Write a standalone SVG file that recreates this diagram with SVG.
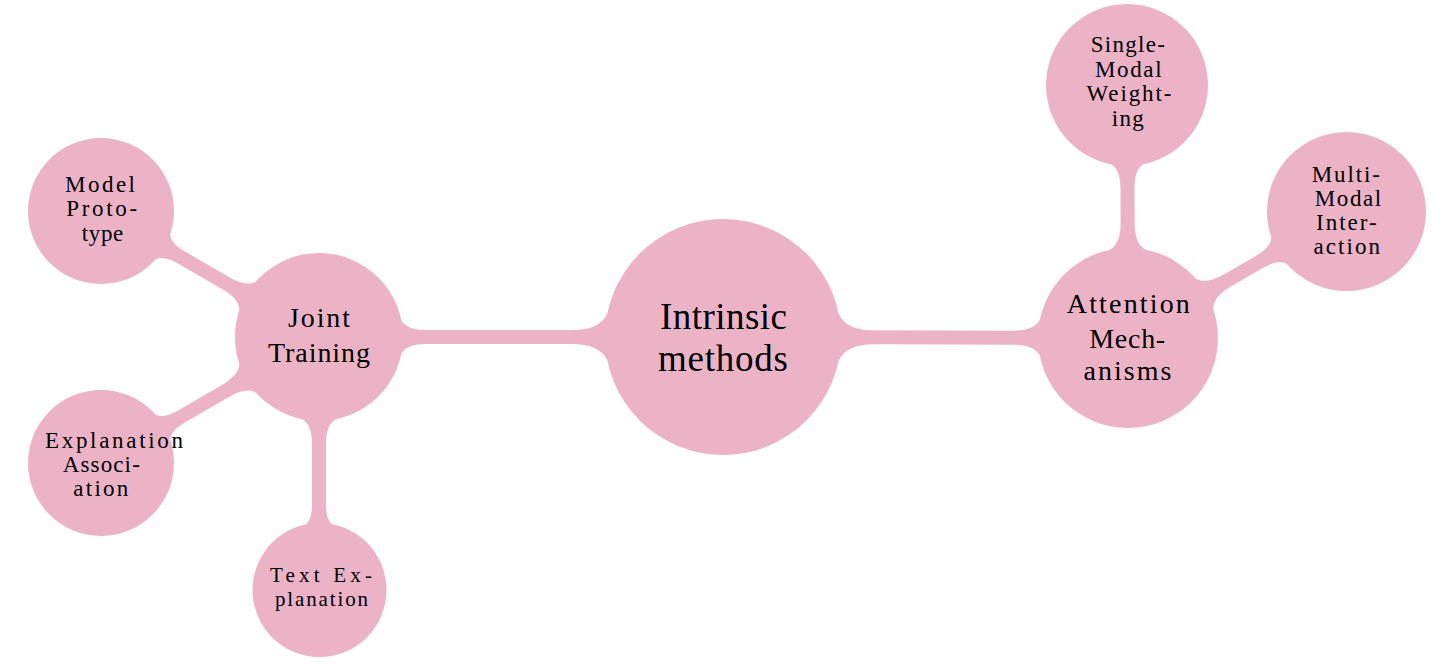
<svg xmlns="http://www.w3.org/2000/svg" width="1432" height="663" viewBox="0 0 1432 663">
<style>
.n{fill:#ECB3C7}
.bar{fill:#ECB3C7}
.t{font-family:"Liberation Serif","Times New Roman",serif;fill:#000;text-anchor:middle}
.s0{font-size:37px}
.s1{font-size:28px}
.s2{font-size:23px}
.s3{font-size:21px}
</style>
<rect width="1432" height="663" fill="#ffffff"/>
<g id="connectors">
<path class="bar" transform="translate(319,337)" d="M82.3,-16.8 C86.1,-9.94 94.9,-7 107.5,-7 L253,-7 C270.7,-7 283.05,-11.98 288.4,-23.6 L288.4,23.6 C283.05,11.98 270.7,7 253,7 L107.5,7 C94.9,7 86.1,9.94 82.3,16.8 Z"/>
<path class="bar" transform="translate(723,337) rotate(0.14)" d="M115.6,-23.6 C120.95,-11.98 133.3,-7 151,-7 L289.8,-7 C303.3,-7 312.75,-10.3 316.8,-18 L316.8,18 C312.75,10.3 303.3,7 289.8,7 L151,7 C133.3,7 120.95,11.98 115.6,23.6 Z"/>
<path class="bar" transform="translate(319,337) rotate(-150)" d="M82.3,-16.8 C86.1,-9.94 94.9,-7 107.5,-7 L158.4,-7 C169.3,-7 177,-9.28 180.3,-14.6 L180.3,14.6 C177,9.28 169.3,7 158.4,7 L107.5,7 C94.9,7 86.1,9.94 82.3,16.8 Z"/>
<path class="bar" transform="translate(319,337) rotate(150)" d="M82.3,-16.8 C86.1,-9.94 94.9,-7 107.5,-7 L158.4,-7 C169.3,-7 177,-9.28 180.3,-14.6 L180.3,14.6 C177,9.28 169.3,7 158.4,7 L107.5,7 C94.9,7 86.1,9.94 82.3,16.8 Z"/>
<path class="bar" transform="translate(319,337) rotate(90)" d="M82.3,-16.8 C86.1,-9.94 94.9,-7 107.5,-7 L167.2,-7 C177.3,-7 184.3,-8.92 187.3,-13.4 L187.3,13.4 C184.3,8.92 177.3,7 167.2,7 L107.5,7 C94.9,7 86.1,9.94 82.3,16.8 Z"/>
<path class="bar" transform="translate(1128,338) rotate(-90.2)" d="M88.2,-18 C92.25,-10.3 101.7,-7 115.2,-7 L149.3,-7 C161.5,-7 170,-9.76 173.6,-16.2 L173.6,16.2 C170,9.76 161.5,7 149.3,7 L115.2,7 C101.7,7 92.25,10.3 88.2,18 Z"/>
<path class="bar" transform="translate(1128,338) rotate(-30.07)" d="M88.2,-18 C92.25,-10.3 101.7,-7 115.2,-7 L151.2,-7 C163,-7 171.3,-9.64 174.9,-15.8 L174.9,15.8 C171.3,9.64 163,7 151.2,7 L115.2,7 C101.7,7 92.25,10.3 88.2,18 Z"/>
</g>
<g id="intrinsic">
<circle class="n" cx="723" cy="337" r="118"/>
<text class="t s0" x="723.5" y="329" textLength="127" lengthAdjust="spacing">Intrinsic</text>
<text class="t s0" x="723" y="371" textLength="130" lengthAdjust="spacing">methods</text>
</g>
<g id="joint">
<circle class="n" cx="319" cy="337" r="84"/>
<text class="t s1" x="319" y="327" textLength="62" lengthAdjust="spacing">Joint</text>
<text class="t s1" x="319" y="362" textLength="102" lengthAdjust="spacing">Training</text>
</g>
<g id="attention">
<circle class="n" cx="1128" cy="338" r="90"/>
<text class="t s1" x="1128.3" y="313.3" textLength="123" lengthAdjust="spacing">Attention</text>
<text class="t s1" x="1127.2" y="347.5" textLength="76" lengthAdjust="spacing">Mech-</text>
<text class="t s1" x="1127.5" y="380" textLength="88" lengthAdjust="spacing">anisms</text>
</g>
<g id="single">
<circle class="n" cx="1127" cy="85" r="81"/>
<text class="t s2" x="1127.8" y="52" textLength="74" lengthAdjust="spacing">Single-</text>
<text class="t s2" x="1128.3" y="76.5" textLength="66.5" lengthAdjust="spacing">Modal</text>
<text class="t s2" x="1129" y="101" textLength="85" lengthAdjust="spacing">Weight-</text>
<text class="t s2" x="1127.8" y="125.5" textLength="32" lengthAdjust="spacing">ing</text>
</g>
<g id="multi">
<circle class="n" cx="1346.5" cy="211.5" r="79.5"/>
<text class="t s2" x="1345.8" y="181.7" textLength="68" lengthAdjust="spacing">Multi-</text>
<text class="t s2" x="1348" y="206.3" textLength="66.5" lengthAdjust="spacing">Modal</text>
<text class="t s2" x="1346.3" y="230.3" textLength="60.5" lengthAdjust="spacing">Inter-</text>
<text class="t s2" x="1346.7" y="254.3" textLength="66.5" lengthAdjust="spacing">action</text>
</g>
<g id="model">
<circle class="n" cx="101" cy="211" r="73"/>
<text class="t s2" x="100" y="191.5" textLength="70" lengthAdjust="spacing">Model</text>
<text class="t s2" x="101.7" y="216" textLength="71" lengthAdjust="spacing">Proto-</text>
<text class="t s2" x="102.5" y="240.5" textLength="41.5" lengthAdjust="spacing">type</text>
</g>
<g id="explanation">
<circle class="n" cx="101" cy="463" r="73"/>
<text class="t s2" x="114" y="447.5" textLength="138" lengthAdjust="spacing">Explanation</text>
<text class="t s2" x="101.3" y="471.5" textLength="77" lengthAdjust="spacing">Associ-</text>
<text class="t s2" x="100.8" y="495.5" textLength="55" lengthAdjust="spacing">ation</text>
</g>
<g id="text-explanation">
<circle class="n" cx="319.5" cy="590" r="67"/>
<text class="t s3" x="321" y="582" textLength="102" lengthAdjust="spacing">Text Ex-</text>
<text class="t s3" x="321.5" y="605.5" textLength="93" lengthAdjust="spacing">planation</text>
</g>
</svg>
